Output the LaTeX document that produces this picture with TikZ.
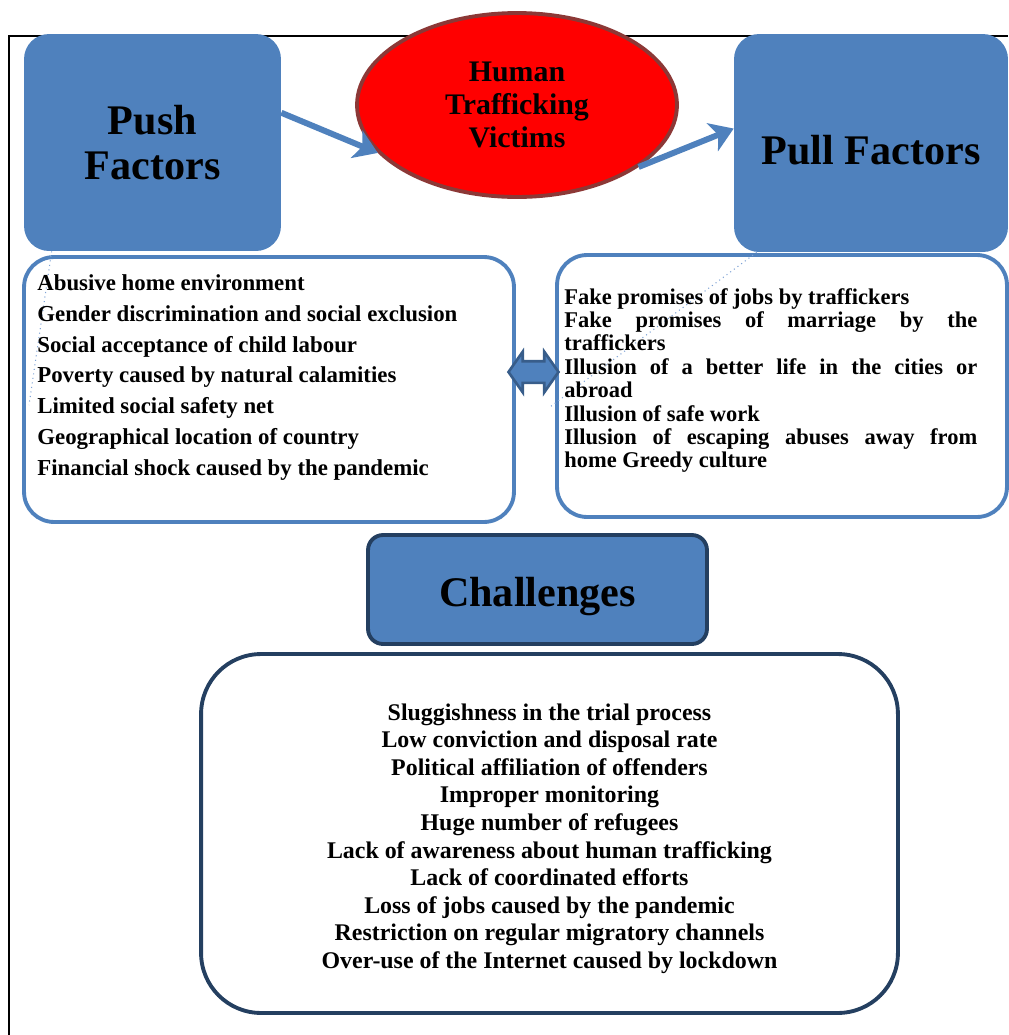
\documentclass[tikz,border=0pt]{standalone}
\usepackage{fontspec}
\setmainfont{Liberation Serif}
\usetikzlibrary{shapes.geometric,shapes.arrows,arrows.meta}

\definecolor{boxblue}{HTML}{4F81BD}
\definecolor{edgeblue}{HTML}{385D8A}
\definecolor{navy}{HTML}{243F60}
\definecolor{victimrim}{HTML}{8C3836}
\definecolor{dotblue}{HTML}{7FA3D6}

\tikzset{
  headbox/.style={rounded corners=0.5cm, fill=boxblue, inner sep=0, align=center,
    font=\bfseries\fontsize{24}{26}\selectfont},
  listbox/.style={draw=boxblue, line width=2.2pt, rounded corners=0.6cm, fill=white, inner sep=0},
  listtext/.style={anchor=north west, inner sep=0, align=left,
    font=\bfseries\fontsize{13}{17.6}\selectfont},
  flow/.style={draw=boxblue, line width=3.4pt, -{Stealth[length=13pt,width=17pt,inset=3.5pt]}},
  dotline/.style={draw=dotblue, dotted, line width=0.6pt}
}

\begin{document}
\begin{tikzpicture}[x=0.02cm,y=-0.02cm]
\useasboundingbox (0,0) rectangle (1008,1035);
\draw[line width=1pt] (9,1035) -- (9,36) -- (1008,36);

\node[headbox, minimum width=5.14cm, minimum height=4.34cm] (push) at (152.5,142.5) {Push\\Factors};
\node[headbox, minimum width=5.48cm, minimum height=4.36cm, text height=25pt, text depth=0pt]
  (pull) at (871,143) {Pull Factors};
\node[ellipse, fill=red, draw=victimrim, line width=2.2pt, minimum width=6.4cm, minimum height=3.68cm,
  inner sep=0, align=center, font=\bfseries\fontsize{17}{19}\selectfont] (victim) at (517,105)
  {Human\\Trafficking\\Victims};

\draw[flow] (push.13) -- (victim.199);
\draw[flow] (victim.-27.5) -- (pull.174);

\node[listbox, minimum width=9.8cm, minimum height=5.3cm] (pushbox) at (269,389.5) {};
\node[listbox, minimum width=9.0cm, minimum height=5.24cm] (pullbox) at (782,386) {};

\coordinate (pushdrop) at (29,405);
\coordinate (pulldrop) at (550,407);
\draw[dotline] ([xshift=0.56cm]push.south west) -- (pushdrop);
\draw[dotline] ([xshift=0.46cm]pull.south west) -- (pulldrop);

\node[double arrow, fill=boxblue, draw=edgeblue, line width=1.5pt, minimum height=1.0cm,
  minimum width=0.78cm, inner sep=0.19cm, double arrow head extend=0.19cm,
  double arrow tip angle=110] (link) at (533.5,372) {};

\node[listtext] (pushitems) at (37,274) {Abusive home environment\\
  Gender discrimination and social exclusion\\
  Social acceptance of child labour\\
  Poverty caused by natural calamities\\
  Limited social safety net\\
  Geographical location of country\\
  Financial shock caused by the pandemic};

\node[listtext, text width=8.26cm, align=justify,
  font=\bfseries\fontsize{12.8}{13.3}\selectfont] (pullitems) at (564,288) {Fake promises of jobs by traffickers\\
  Fake promises of marriage by the\linebreak traffickers\\
  Illusion of a better life in the cities or\linebreak abroad\\
  Illusion of safe work\\
  Illusion of escaping abuses away from\linebreak home Greedy culture};

\node[headbox, draw=navy, line width=2.2pt, rounded corners=0.3cm, minimum width=6.78cm,
  minimum height=2.18cm, text height=20pt, text depth=0.5pt] (chal) at (537.5,589.5) {Challenges};

\node[listbox, draw=navy, rounded corners=1.2cm, minimum width=13.94cm, minimum height=7.18cm]
  (chalbox) at (549.5,833.5) {};
\node[inner sep=0, align=center, font=\bfseries\fontsize{13.6}{15.7}\selectfont] (chalitems)
  at (549.5,838.5) {Sluggishness in the trial process\\
  Low conviction and disposal rate\\
  Political affiliation of offenders\\
  Improper monitoring\\
  Huge number of refugees\\
  Lack of awareness about human trafficking\\
  Lack of coordinated efforts\\
  Loss of jobs caused by the pandemic\\
  Restriction on regular migratory channels\\
  Over-use of the Internet caused by lockdown};
\end{tikzpicture}
\end{document}
